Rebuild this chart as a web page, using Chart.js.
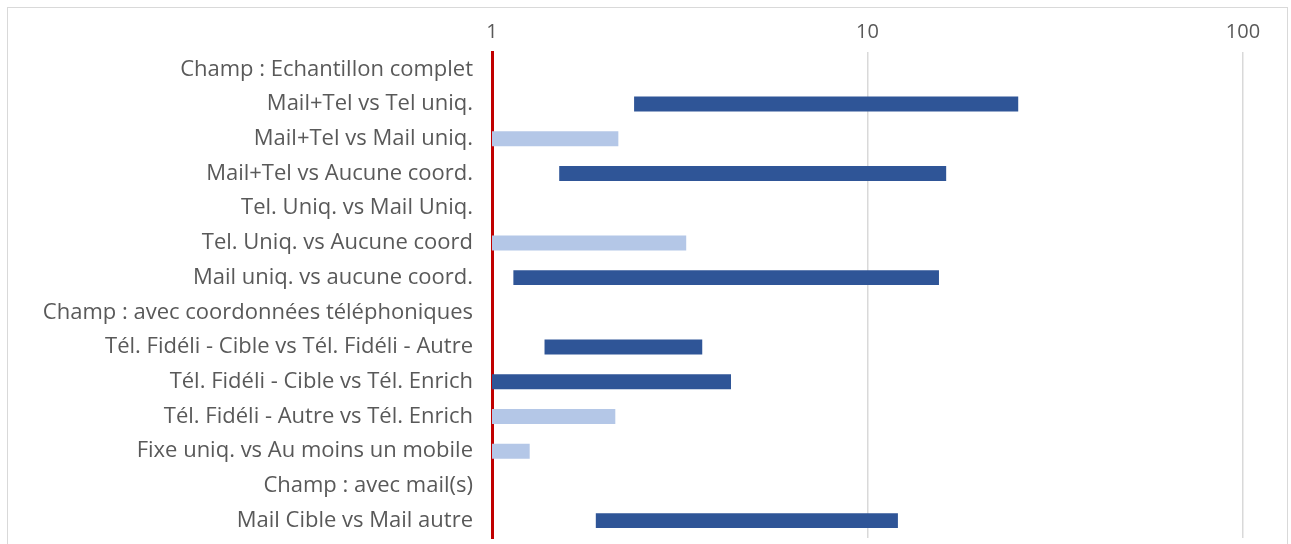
<!DOCTYPE html>
<html lang="fr">
<head>
<meta charset="utf-8"/>
<title>Rapports de cotes</title>
<script src="https://cdn.jsdelivr.net/npm/chart.js"></script>
<style>
body {
  margin: 0;
  background: #ffffff;
}
.wrap {
  position: relative;
  width: 1291px;
  height: 544px;
  overflow: hidden;
}
.frame {
  position: absolute;
  left: 7px;
  top: 7px;
  width: 1281px;
  height: 560px;
  border: 1px solid #d9d9d9;
  box-sizing: border-box;
}
canvas {
  position: absolute;
  left: 0;
  top: 0;
}
</style>
</head>
<body>
<div class="wrap">
  <div class="frame"></div>
  <canvas id="orChart" width="1291" height="544"></canvas>
</div>
<script>
const categories = [
  "Champ : Echantillon complet",
  "Mail+Tel vs Tel uniq.",
  "Mail+Tel vs Mail uniq.",
  "Mail+Tel vs Aucune coord.",
  "Tel. Uniq. vs Mail Uniq.",
  "Tel. Uniq. vs Aucune coord",
  "Mail uniq. vs aucune coord.",
  "Champ : avec coordonnées téléphoniques",
  "Tél. Fidéli - Cible vs Tél. Fidéli - Autre",
  "Tél. Fidéli - Cible vs Tél. Enrich",
  "Tél. Fidéli - Autre vs Tél. Enrich",
  "Fixe uniq. vs Au moins un mobile",
  "Champ : avec mail(s)",
  "Mail Cible vs Mail autre"
];

// intervalles foncés (bas / haut)
const darkLow  = [null, 2.39, null, 1.51, null, null, 1.14, null, 1.38, 1.0, null, null, null, 1.89];
const darkHigh = [null, 25.2, null, 16.2, null, null, 15.5, null, 3.63, 4.33, null, null, null, 12.05];

// intervalles clairs (depuis 1)
const lightLow  = [null, null, 1, null, null, 1, null, null, null, null, 1, 1, null, null];
const lightHigh = [null, null, 2.17, null, null, 3.29, null, null, null, null, 2.13, 1.26, null, null];

const xTicks = [1, 10, 100];

function pairs(lo, hi) {
  return lo.map((v, i) => (v === null || hi[i] === null) ? null : [v, hi[i]]);
}

const fontFamily = "'Open Sans', 'Noto Sans', sans-serif";

new Chart(document.getElementById("orChart"), {
  type: "bar",
  data: {
    labels: categories,
    datasets: [
      {
        label: "foncé",
        data: pairs(darkLow, darkHigh),
        backgroundColor: "#2f5597",
        grouped: false,
        barPercentage: 0.43,
        categoryPercentage: 1
      },
      {
        label: "clair",
        data: pairs(lightLow, lightHigh),
        backgroundColor: "#b4c7e7",
        grouped: false,
        barPercentage: 0.43,
        categoryPercentage: 1
      }
    ]
  },
  options: {
    indexAxis: "y",
    responsive: false,
    animation: false,
    layout: { padding: { left: 0, right: 48, top: 0, bottom: 6 } },
    plugins: {
      legend: { display: false },
      tooltip: { enabled: false }
    },
    scales: {
      x: {
        type: "logarithmic",
        position: "top",
        min: 1,
        max: 100,
        afterBuildTicks: (scale) => { scale.ticks = xTicks.map(v => ({ value: v })); },
        afterFit: (scale) => { scale.height = 52; scale.paddingLeft = 0; scale.paddingRight = 0; },
        grid: { color: "#d9d9d9", lineWidth: 1.5, drawTicks: false },
        border: { display: false },
        ticks: {
          color: "#595959",
          font: { family: fontFamily, size: 20 },
          padding: 8,
          maxRotation: 0,
          autoSkip: false,
          callback: (v) => String(v)
        }
      },
      y: {
        z: 1,
        afterFit: (scale) => { scale.width = 492; scale.paddingTop = 0; scale.paddingBottom = 0; },
        grid: { display: false, drawTicks: false },
        border: { display: true, color: "#c00000", width: 3 },
        ticks: {
          color: "#595959",
          font: { family: fontFamily, size: 22 },
          padding: 19,
          autoSkip: false
        }
      }
    }
  }
});
</script>
</body>
</html>
